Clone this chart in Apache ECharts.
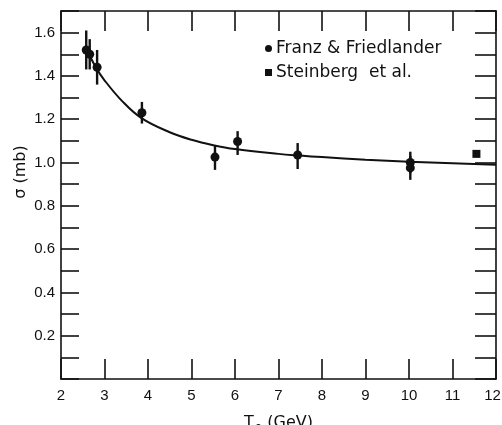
<!DOCTYPE html>
<html>
<head>
<meta charset="utf-8">
<script src="https://cdn.jsdelivr.net/npm/echarts@6/dist/echarts.min.js"></script>
<style>html,body{margin:0;padding:0;background:#fff;}#c{width:502px;height:425px;}</style>
</head>
<body>
<div id="c"></div>
<script>
// Franz & Friedlander data
var ffT     = [2.58, 2.66, 2.83, 3.86, 5.54, 6.06, 7.44, 10.03, 10.03];
var ffSigma = [1.52, 1.50, 1.44, 1.23, 1.025, 1.097, 1.035, 1.00, 0.975];
var ffLow   = [1.43, 1.43, 1.36, 1.18, 0.966, 1.035, 0.97, 0.95, 0.92];
var ffHigh  = [1.61, 1.57, 1.52, 1.28, 1.078, 1.145, 1.09, 1.05, 1.03];
// Steinberg et al. data
var stT     = [11.55];
var stSigma = [1.04];
// fitted curve
var fitT     = [2.6, 2.8, 3.0, 3.4, 3.85, 4.5, 5.0, 5.5, 6.0, 7.0, 7.5, 8.0, 9.0, 10.0, 11.0, 12.0];
var fitSigma = [1.52, 1.44, 1.38, 1.285, 1.205, 1.14, 1.105, 1.08, 1.062, 1.04, 1.032, 1.025, 1.013, 1.004, 0.997, 0.99];
// axis
var xTicks = [2, 3, 4, 5, 6, 7, 8, 9, 10, 11, 12];
var yLabelTicks = [0.2, 0.4, 0.6, 0.8, 1.0, 1.2, 1.4, 1.6];

var ink = '#111';
var chart = echarts.init(document.getElementById('c'), null, {renderer: 'canvas'});

function zip2(a, b) { return a.map(function (v, i) { return [v, b[i]]; }); }
var errData = ffT.map(function (t, i) { return [t, ffLow[i], ffHigh[i]]; });

var axisLineStyle = {color: ink, width: 1.6};
var tickFont = {fontFamily: 'Liberation Sans', fontSize: 15, color: ink};

chart.setOption({
  animation: false,
  backgroundColor: '#fff',
  grid: {left: 61, right: 6, top: 11, bottom: 46, containLabel: false, outerBoundsMode: 'none'},
  legend: {
    orient: 'vertical', left: 265, top: 40,
    itemWidth: 7, itemHeight: 7, itemGap: 7, padding: 0,
    textStyle: {fontFamily: 'DejaVu Sans', fontSize: 17, color: ink, padding: [0, 0, 0, -1]},
    data: [{name: 'Franz & Friedlander', icon: 'circle'}, {name: 'Steinberg  et al.', icon: 'rect'}]
  },
  graphic: [{
    type: 'text', x: 21, y: 172, rotation: Math.PI / 2, silent: true,
    style: {text: 'σ (mb)', fontFamily: 'DejaVu Sans', fontSize: 16, fill: ink,
            textAlign: 'center', textVerticalAlign: 'middle'}
  }],
  xAxis: [{
    type: 'value', min: 2, max: 12, interval: 1, position: 'bottom',
    name: '{t|T}{s|o} (GeV)', nameLocation: 'middle', nameGap: 33,
    nameTextStyle: {fontFamily: 'DejaVu Sans', fontSize: 16, color: ink,
      rich: {t: {fontFamily: 'DejaVu Sans', fontSize: 16, color: ink},
             s: {fontFamily: 'DejaVu Sans', fontSize: 12, color: ink, padding: [10, 0, 0, 1]}}},
    axisLine: {show: true, onZero: false, lineStyle: axisLineStyle},
    axisTick: {show: true, inside: true, length: 20, lineStyle: {color: ink, width: 1.6}},
    axisLabel: Object.assign({margin: 9,
      rich: {e: {fontFamily: 'Liberation Sans', fontSize: 15, color: ink, padding: [0, 7, 0, 0]}},
      formatter: function (v) {
        if (xTicks.indexOf(v) < 0) return '';
        return v === xTicks[xTicks.length - 1] ? '{e|' + v + '}' : String(v);
      }}, tickFont),
    splitLine: {show: false}
  }, {
    type: 'value', min: 2, max: 12, interval: 1, position: 'top',
    axisLine: {show: true, onZero: false, lineStyle: axisLineStyle},
    axisTick: {show: true, inside: true, length: 20, lineStyle: {color: ink, width: 1.6}},
    axisLabel: {show: false}, splitLine: {show: false}
  }],
  yAxis: [{
    type: 'value', min: 0, max: 1.7, interval: 0.1, position: 'left',
    axisLine: {show: true, onZero: false, lineStyle: axisLineStyle},
    axisTick: {show: true, inside: true, length: 18, lineStyle: {color: ink, width: 1.6}},
    axisLabel: Object.assign({margin: 6, formatter: function (v) {
      for (var i = 0; i < yLabelTicks.length; i++) {
        if (Math.abs(yLabelTicks[i] - v) < 1e-6) return yLabelTicks[i].toFixed(1);
      }
      return '';
    }}, tickFont),
    splitLine: {show: false}
  }, {
    type: 'value', min: 0, max: 1.7, interval: 0.1, position: 'right',
    axisLine: {show: true, onZero: false, lineStyle: axisLineStyle},
    axisTick: {show: true, inside: true, length: 21, lineStyle: {color: ink, width: 1.6}},
    axisLabel: {show: false}, splitLine: {show: false}
  }],
  series: [{
    type: 'line', name: 'fit', data: zip2(fitT, fitSigma), smooth: 0.4,
    showSymbol: false, symbol: 'none', lineStyle: {color: ink, width: 2},
    silent: true, z: 2
  }, {
    type: 'custom', name: 'err', data: errData, z: 3, silent: true,
    renderItem: function (params, api) {
      var p1 = api.coord([api.value(0), api.value(1)]);
      var p2 = api.coord([api.value(0), api.value(2)]);
      return {type: 'line', shape: {x1: p1[0], y1: p1[1], x2: p2[0], y2: p2[1]},
              style: {stroke: ink, lineWidth: 2.4}};
    }
  }, {
    type: 'scatter', name: 'Franz & Friedlander', data: zip2(ffT, ffSigma),
    symbol: 'circle', symbolSize: 9, itemStyle: {color: ink, opacity: 1}, z: 4
  }, {
    type: 'scatter', name: 'Steinberg  et al.', data: zip2(stT, stSigma),
    symbol: 'rect', symbolSize: 8, itemStyle: {color: ink, opacity: 1}, z: 4
  }]
});
</script>
</body>
</html>
